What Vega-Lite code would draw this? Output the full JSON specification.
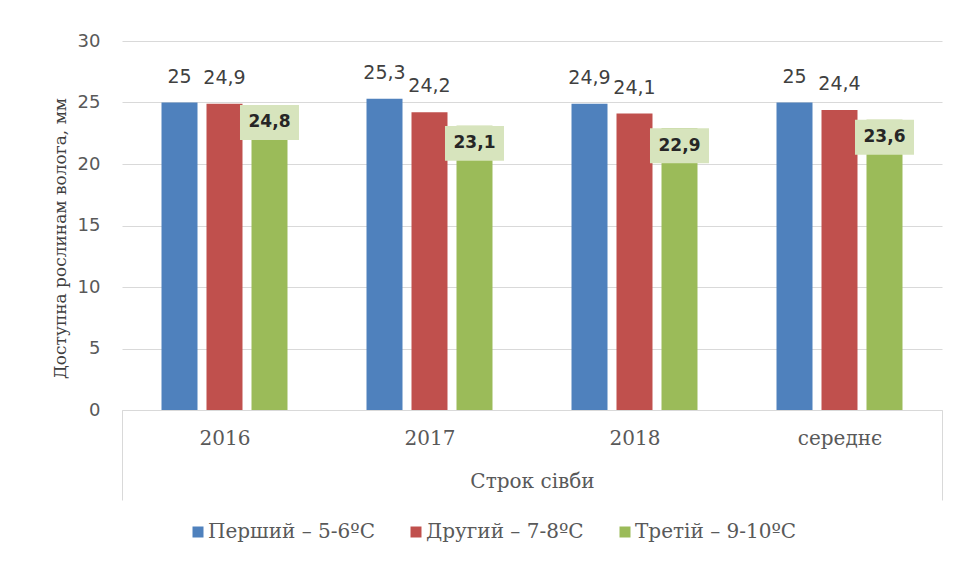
{
  "$schema": "https://vega.github.io/schema/vega-lite/v6.json",
  "width": 820,
  "height": 369,
  "autosize": {"type": "none"},
  "padding": {"left": 122, "top": 41, "right": 15, "bottom": 153},
  "background": "white",
  "config": {
    "locale": {"number": {"decimal": ",", "thousands": " ", "grouping": [3], "currency": ["", ""]}},
    "view": {"stroke": null}
  },
  "data": {
    "values": [
      {"year": "2016", "series": "Перший – 5-6ºC", "value": 25},
      {"year": "2016", "series": "Другий – 7-8ºC", "value": 24.9},
      {"year": "2016", "series": "Третій – 9-10ºC", "value": 24.8},
      {"year": "2017", "series": "Перший – 5-6ºC", "value": 25.3},
      {"year": "2017", "series": "Другий – 7-8ºC", "value": 24.2},
      {"year": "2017", "series": "Третій – 9-10ºC", "value": 23.1},
      {"year": "2018", "series": "Перший – 5-6ºC", "value": 24.9},
      {"year": "2018", "series": "Другий – 7-8ºC", "value": 24.1},
      {"year": "2018", "series": "Третій – 9-10ºC", "value": 22.9},
      {"year": "середнє", "series": "Перший – 5-6ºC", "value": 25},
      {"year": "середнє", "series": "Другий – 7-8ºC", "value": 24.4},
      {"year": "середнє", "series": "Третій – 9-10ºC", "value": 23.6}
    ]
  },
  "encoding": {
    "x": {
      "field": "year",
      "type": "nominal",
      "scale": {"domain": ["2016", "2017", "2018", "середнє"], "paddingInner": 0, "paddingOuter": 0},
      "axis": {
        "title": "Строк сівби",
        "labelAngle": 0,
        "grid": false,
        "domainColor": "#d9d9d9",
        "domainWidth": 1,
        "tickBand": "extent",
        "tickSize": 90,
        "tickWidth": 1,
        "tickColor": {"condition": {"test": "datum.value === 'середнє' || datum.extra", "value": "#d9d9d9"}, "value": "rgba(0,0,0,0)"},
        "labelPadding": -72,
        "labelFont": "DejaVu Serif",
        "labelFontSize": 20,
        "labelColor": "#595959",
        "titleFont": "DejaVu Serif",
        "titleFontSize": 20,
        "titleFontWeight": "normal",
        "titleColor": "#595959",
        "titleY": 71,
        "titleBaseline": "middle"
      }
    },
    "xOffset": {
      "field": "series",
      "type": "nominal",
      "scale": {"domain": ["Перший – 5-6ºC", "Другий – 7-8ºC", "Третій – 9-10ºC"], "paddingInner": 0.2, "paddingOuter": 0.878}
    },
    "y": {
      "field": "value",
      "type": "quantitative",
      "scale": {"domain": [0, 30], "nice": false},
      "axis": {
        "title": "Доступна рослинам волога, мм",
        "values": [0, 5, 10, 15, 20, 25, 30],
        "domain": false,
        "ticks": false,
        "gridColor": "#d9d9d9",
        "gridWidth": 1,
        "labelFont": "DejaVu Sans",
        "labelFontSize": 18,
        "labelColor": "#595959",
        "labelPadding": 22,
        "titleFont": "DejaVu Serif",
        "titleFontSize": 17,
        "titleFontWeight": "normal",
        "titleColor": "#404040",
        "titlePadding": 8,
        "titleY": 197
      }
    }
  },
  "layer": [
    {
      "mark": {"type": "bar"},
      "encoding": {
        "color": {
          "field": "series",
          "type": "nominal",
          "scale": {"domain": ["Перший – 5-6ºC", "Другий – 7-8ºC", "Третій – 9-10ºC"], "range": ["#4f81bd", "#c0504d", "#9bbb59"]},
          "legend": {
            "title": null,
            "orient": "none",
            "direction": "horizontal",
            "columns": 3,
            "legendX": 66,
            "legendY": 481,
            "padding": 0,
            "symbolType": "square",
            "symbolSize": 121,
            "symbolStrokeWidth": 0,
            "labelFont": "DejaVu Serif",
            "labelFontSize": 20,
            "labelColor": "#595959",
            "labelOffset": 0,
            "columnPadding": 31,
            "labelLimit": 400
          }
        }
      }
    },
    {
      "transform": [{"filter": "datum.series !== 'Третій – 9-10ºC'"}],
      "mark": {"type": "text", "dy": -26, "baseline": "middle", "align": "center", "font": "DejaVu Sans", "fontSize": 19, "color": "#404040"},
      "encoding": {"text": {"field": "value", "type": "quantitative", "format": ".1~f"}}
    },
    {
      "transform": [{"filter": "datum.series === 'Третій – 9-10ºC'"}],
      "mark": {"type": "point", "shape": "M-1,-0.593L1,-0.593L1,0.593L-1,0.593Z", "size": 3481, "filled": true, "color": "#d7e4bd", "opacity": 1, "strokeWidth": 0, "yOffset": 17.5},
      "encoding": {}
    },
    {
      "transform": [{"filter": "datum.series === 'Третій – 9-10ºC'"}],
      "mark": {"type": "text", "yOffset": 17.5, "baseline": "middle", "align": "center", "font": "DejaVu Sans", "fontSize": 17, "fontWeight": "bold", "color": "#262626"},
      "encoding": {"text": {"field": "value", "type": "quantitative", "format": ".1~f"}}
    }
  ]
}
